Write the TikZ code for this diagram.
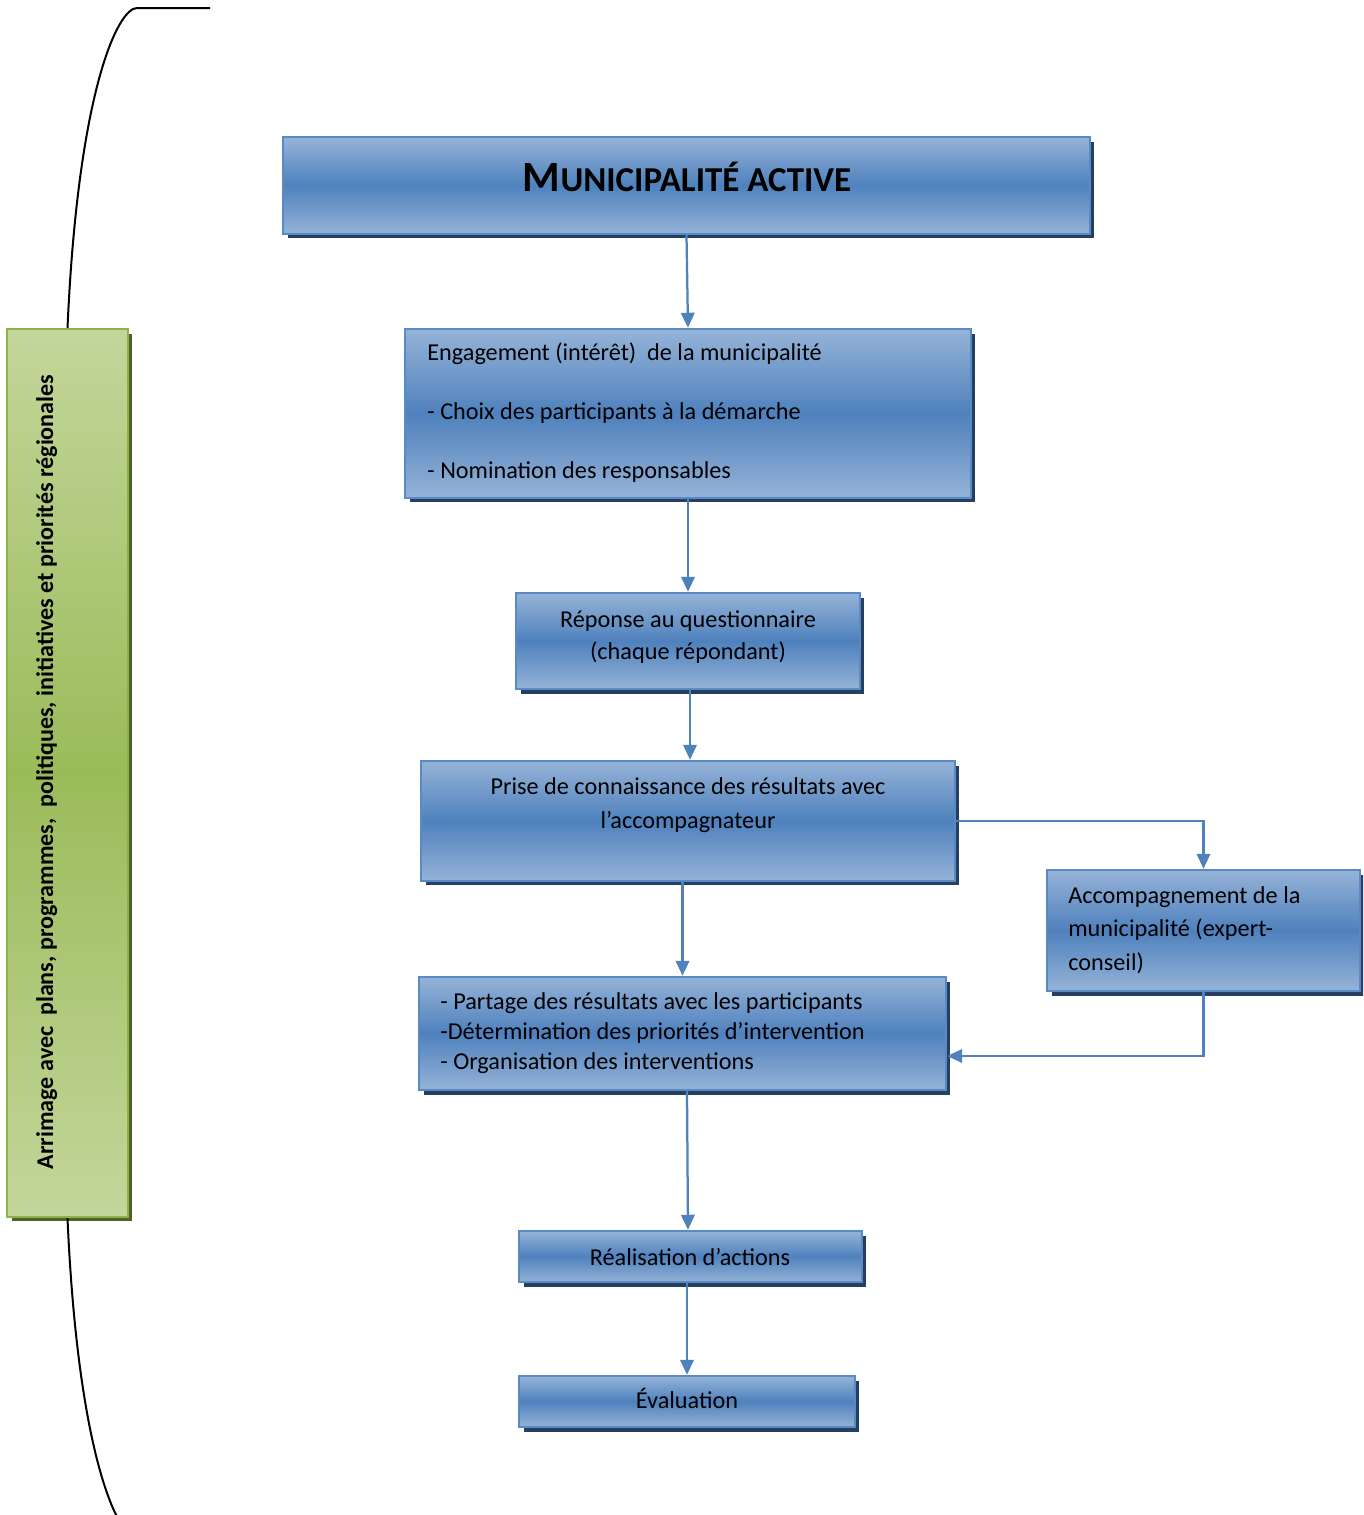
\documentclass[tikz,border=0pt]{standalone}
\usepackage{fontspec}
\setmainfont{Carlito}
\usetikzlibrary{arrows.meta,shadows}
\definecolor{lblue}{HTML}{95B3D7}
\definecolor{mblue}{HTML}{4F81BD}
\definecolor{bblue}{HTML}{5A8AC6}
\definecolor{sblue}{HTML}{243F60}
\definecolor{ablue}{HTML}{4F81BD}
\definecolor{lgreen}{HTML}{C3D69B}
\definecolor{mgreen}{HTML}{9BBB59}
\definecolor{bgreen}{HTML}{8EB248}
\definecolor{sgreen}{HTML}{4F6228}
\begin{document}
\begin{tikzpicture}[x=0.02cm,y=-0.02cm,
  bluebox/.style={draw=bblue,line width=0.05cm,top color=lblue,bottom color=lblue,middle color=mblue,inner sep=0pt,
    drop shadow={shadow xshift=0.09cm,shadow yshift=-0.09cm,opacity=1,fill=sblue}},
  greenbox/.style={draw=bgreen,line width=0.05cm,top color=lgreen,bottom color=lgreen,middle color=mgreen,inner sep=0pt,
    drop shadow={shadow xshift=0.09cm,shadow yshift=-0.09cm,opacity=1,fill=sgreen}},
  txt/.style={inner sep=0pt,text=black},
  arr/.style={draw=ablue,line width=0.045cm,-{Triangle[width=0.27cm,length=0.3cm]}},
  bracket/.style={draw=black,line width=0.04cm}]
\clip (0,0) rectangle (1363,1515);
\fill[white] (0,0) rectangle (1363,1515);

% boxes
\node[bluebox,minimum width=16.14cm,minimum height=1.94cm] (b1) at (686.5,185.5) {};
\node[bluebox,minimum width=11.32cm,minimum height=3.38cm] (b2) at (688,413.5) {};
\node[bluebox,minimum width=6.88cm,minimum height=1.92cm] (b3) at (688,641) {};
\node[bluebox,minimum width=10.68cm,minimum height=2.4cm] (b4) at (688,821) {};
\node[bluebox,minimum width=6.26cm,minimum height=2.42cm] (b5) at (1203.5,930.5) {};
\node[bluebox,minimum width=10.54cm,minimum height=2.26cm] (b6) at (682.5,1033.5) {};
\node[bluebox,minimum width=6.86cm,minimum height=1.02cm] (b7) at (690.5,1256.5) {};
\node[bluebox,minimum width=6.72cm,minimum height=1.02cm] (b8) at (687,1401.5) {};
\node[greenbox,minimum width=2.42cm,minimum height=17.76cm] (g) at (67.5,773) {};

% texts (base anchor = baseline of the last line)
\node[txt,anchor=base,font=\bfseries\fontsize{24.5}{28}\selectfont] (t1) at (687,191)
  {M{\fontsize{19.9}{24}\selectfont UNICIPALITÉ ACTIVE}};
\node[txt,anchor=base west,align=left,font=\fontsize{13.8}{33.5}\selectfont] (t2) at (427,478)
  {Engagement (intérêt)\ \ de la municipalité\\- Choix des participants à la démarche\\- Nomination des responsables};
\node[txt,anchor=base,align=center,font=\fontsize{13.8}{18.2}\selectfont] (t3) at (688,659)
  {Réponse au questionnaire\\(chaque répondant)};
\node[txt,anchor=base,align=center,font=\fontsize{13.8}{18.8}\selectfont] (t4) at (688,828)
  {Prise de connaissance des résultats avec\\l’accompagnateur};
\node[txt,anchor=base west,align=left,font=\fontsize{13.8}{18.8}\selectfont] (t5) at (1068,970)
  {Accompagnement de la\\municipalité (expert-\\conseil)};
\node[txt,anchor=base west,align=left,font=\fontsize{13.8}{16.8}\selectfont] (t6) at (440,1069)
  {- Partage des résultats avec les participants\\-Détermination des priorités d’intervention\\- Organisation des interventions};
\node[txt,anchor=base,font=\fontsize{13.8}{16}\selectfont] (t7) at (690,1265) {Réalisation d’actions};
\node[txt,anchor=base,font=\fontsize{13.8}{16}\selectfont] (t8) at (687,1408) {Évaluation};
\node[txt,anchor=base,rotate=90,font=\bfseries\fontsize{13.7}{16}\selectfont] (tg) at (53,772)
  {Arrimage avec\ \ plans, programmes,\ \ politiques, initiatives et priorités régionales};

% connectors
\draw[arr] (b1.south) -- (b2.north);
\draw[arr] (b2.south) -- (b3.north);
\draw[arr] ([xshift=0.04cm]b3.south) -- ([xshift=0.04cm]b4.north);
\draw[arr] (b4.south -| b6.north) -- (b6.north);
\draw[arr] (b4.east) -| (b5.north);
\draw[arr] (b5.south) |- ([yshift=-0.45cm]b6.east);
\draw[arr] ([xshift=0.09cm]b6.south) -- ([xshift=-0.05cm]b7.north);
\draw[arr] (b7.south -| b8.north) -- (b8.north);

% bracket
\draw[bracket] (210,8) -- (137,8) .. controls (118,8) and (78,90) .. (g.north);
\draw[bracket] (g.south) .. controls (78,1456) and (118,1538) .. (137,1538) -- (210,1538);
\end{tikzpicture}
\end{document}
